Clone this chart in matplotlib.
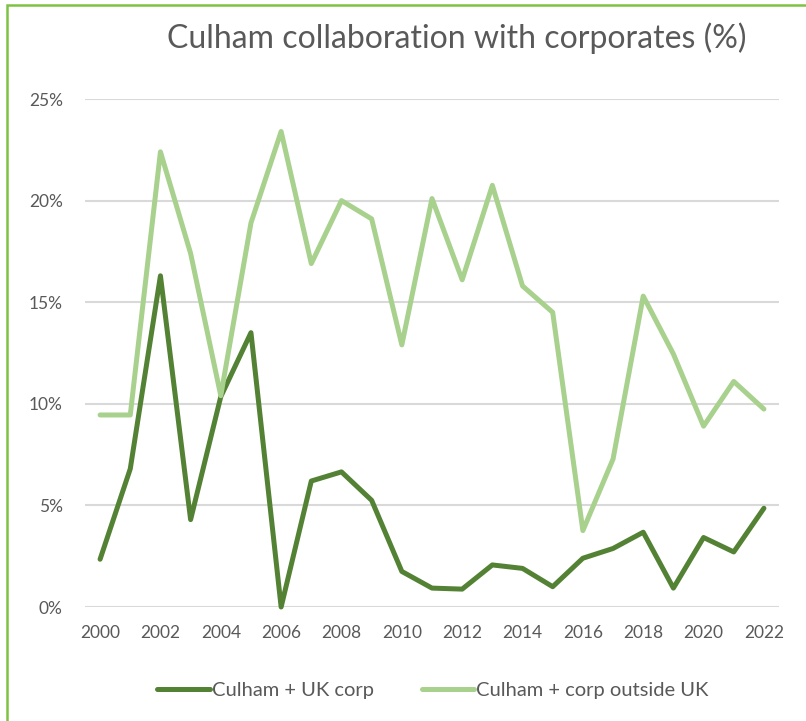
import matplotlib
matplotlib.use("Agg")
import matplotlib.pyplot as plt
from matplotlib.patches import Rectangle
from matplotlib.ticker import PercentFormatter

plt.rcParams['font.family'] = ['Lato', 'DejaVu Sans']

years = list(range(2000, 2023))
uk_corp = [2.35, 6.8, 16.3, 4.3, 10.35, 13.5, 0.0, 6.2, 6.65, 5.25, 1.75,
           0.93, 0.88, 2.07, 1.9, 1.0, 2.4, 2.88, 3.68, 0.93, 3.42, 2.71, 4.86]
outside_uk = [9.45, 9.45, 22.4, 17.4, 10.4, 18.9, 23.4, 16.9, 20.0, 19.1, 12.9,
              20.1, 16.1, 20.75, 15.8, 14.5, 3.76, 7.28, 15.3, 12.45, 8.9, 11.1, 9.74]
xtick_years = years[::2]

W, H = 806, 721
fig = plt.figure(figsize=(W / 100, H / 100), dpi=100)
ax = fig.add_axes([85 / W, 1 - 607 / H, (779 - 85) / W, (607 - 99) / H])

dark = "#548235"
light = "#A9D18E"
grey = "#595959"

ax.plot(years, uk_corp, color=dark, lw=3.6, solid_joinstyle="round",
        solid_capstyle="round", clip_on=False, label="Culham + UK corp", zorder=3)
ax.plot(years, outside_uk, color=light, lw=3.6, solid_joinstyle="round",
        solid_capstyle="round", clip_on=False, label="Culham + corp outside UK", zorder=3)

ax.set_xlim(1999.5, 2022.5)
ax.set_ylim(0, 25)
ax.set_yticks([0, 5, 10, 15, 20, 25])
ax.yaxis.set_major_formatter(PercentFormatter(decimals=0))
ax.set_xticks(xtick_years)
ax.grid(axis="y", color="#d9d9d9", lw=1.5)
ax.set_axisbelow(True)
for s in ax.spines.values():
    s.set_visible(False)
ax.tick_params(axis="both", length=0, colors=grey, labelsize=12.5)
ax.tick_params(axis="y", pad=16)
ax.tick_params(axis="x", pad=13)

fig.text(457 / W, 1 - 38 / H, "Culham collaboration with corporates (%)",
         ha="center", va="center", fontsize=23, color=grey)

leg = fig.legend(loc="center", bbox_to_anchor=(433 / W, 1 - 690 / H), ncol=2,
                 frameon=False, fontsize=14.5, handlelength=2.6, handletextpad=0.1,
                 columnspacing=2.4)
for t in leg.get_texts():
    t.set_color(grey)

# outer chart border (only left and top visible in the crop)
fig.patches.append(Rectangle((7 / W, -0.1), 1.2, 1 - 5 / H + 0.1, transform=fig.transFigure,
                             fill=False, edgecolor="#7DC242", lw=1.8))

fig.savefig("out.png", dpi=100)
